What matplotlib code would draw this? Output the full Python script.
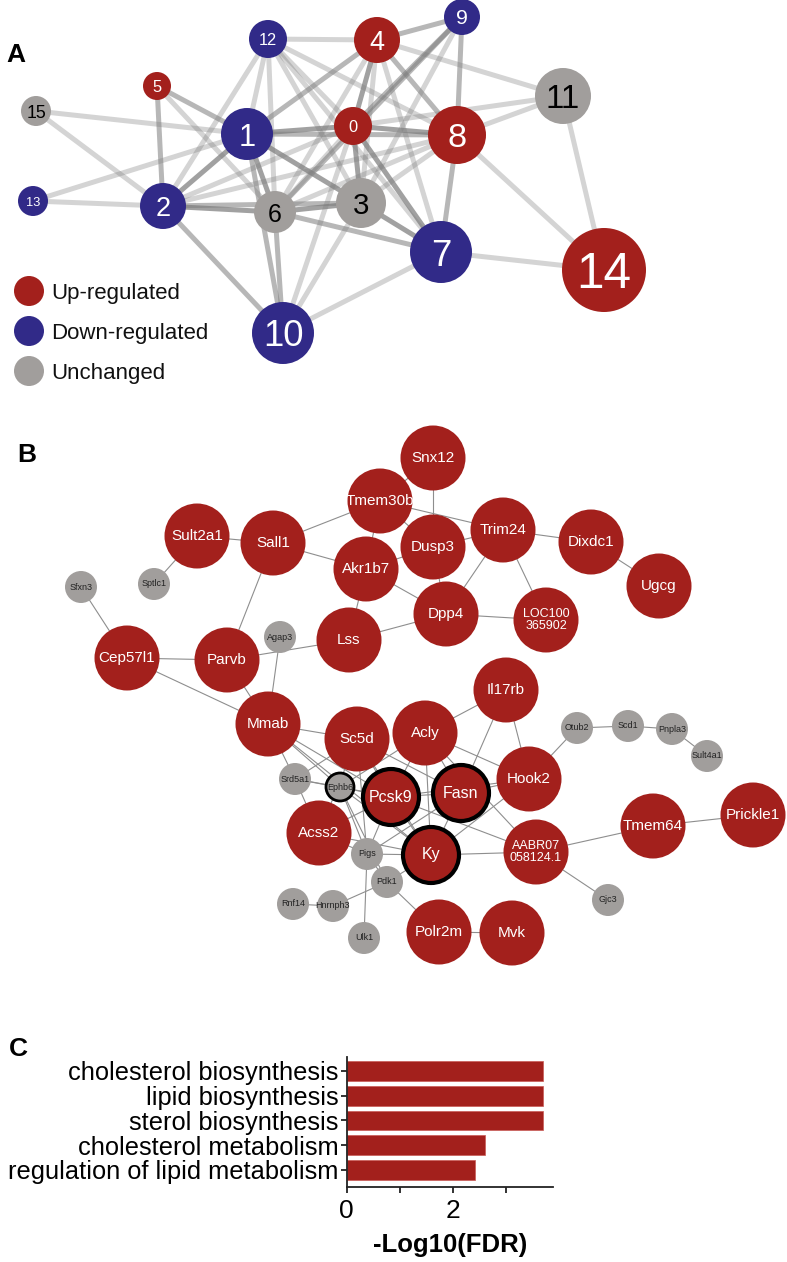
import matplotlib
matplotlib.use("Agg")
import matplotlib.pyplot as plt
from matplotlib.patches import Circle

plt.rcParams["font.family"] = ["Liberation Sans", "DejaVu Sans"]

# ---------------- panel A: module network ----------------
a_ids = ["0", "1", "2", "3", "4", "5", "6", "7", "8", "9", "10", "11", "12", "13", "14", "15"]
a_x = [353, 247, 163, 361, 377, 157, 275, 441, 457, 462, 283, 563, 268, 33, 604, 36]
a_y = [126, 134, 206, 203, 40, 86, 212, 252, 135, 17, 333, 96, 39, 201, 270, 111]
a_size = [19, 26, 23, 25, 23, 14, 21, 31, 29, 18, 31, 28, 19, 15, 42, 15]
a_status = ["up", "down", "down", "same", "up", "up", "same", "down",
            "up", "down", "down", "same", "down", "down", "up", "same"]
# (node, node, strength 1..3)
a_edges = [
    (15, 1, 1), (15, 2, 1), (13, 2, 1), (13, 1, 1), (5, 6, 1),
    (12, 4, 1), (12, 1, 1), (12, 2, 1), (12, 6, 1), (12, 3, 1), (12, 0, 1),
    (12, 8, 1), (12, 7, 1), (2, 0, 1), (2, 8, 1), (6, 0, 1), (6, 4, 1),
    (6, 8, 1), (10, 3, 1), (10, 0, 1), (10, 7, 1), (3, 8, 1), (3, 4, 1),
    (4, 7, 1), (4, 11, 1), (11, 8, 1), (11, 14, 1), (11, 0, 1), (8, 14, 1),
    (7, 14, 1), (3, 9, 1),
    (5, 1, 2), (5, 2, 2), (1, 4, 2), (1, 8, 2), (1, 10, 2), (2, 3, 2),
    (2, 10, 2), (6, 10, 2), (6, 7, 2), (6, 9, 2), (0, 9, 2), (4, 8, 2),
    (4, 9, 2), (9, 8, 2), (8, 7, 2),
    (1, 0, 3), (1, 3, 3), (1, 6, 3), (1, 2, 3), (2, 6, 3), (6, 3, 3),
    (3, 0, 3), (3, 7, 3), (0, 7, 3), (0, 8, 3), (0, 4, 3),
]
legend_labels = ["Up-regulated", "Down-regulated", "Unchanged"]

# ---------------- panel B: gene network ----------------
b_names = ["Sult2a1", "Sall1", "Tmem30b", "Snx12", "Dusp3", "Akr1b7", "Trim24",
           "Dixdc1", "Ugcg", "Dpp4", "LOC100365902", "Lss", "Parvb", "Cep57l1",
           "Sfxn3", "Sptlc1", "Agap3", "Il17rb", "Mmab", "Sc5d", "Acly", "Srd5a1",
           "Ephb6", "Pcsk9", "Fasn", "Hook2", "Otub2", "Scd1", "Pnpla3", "Sult4a1",
           "Acss2", "Pigs", "Ky", "AABR07058124.1", "Tmem64", "Prickle1", "Gjc3",
           "Pdk1", "Rnf14", "Hnrnph3", "Ulk1", "Polr2m", "Mvk"]
b_labels = {"LOC100365902": "LOC100\n365902", "AABR07058124.1": "AABR07\n058124.1"}
b_x = [197, 273, 380, 433, 433, 366, 503, 591, 659, 446, 546, 349, 227, 127,
       81, 154, 280, 506, 268, 357, 425, 295, 340, 391, 461, 529, 577, 628, 672, 707,
       319, 367, 431, 536, 653, 753, 608, 387, 293, 333, 364, 439, 512]
b_y = [536, 543, 501, 458, 547, 569, 530, 542, 586, 614, 620, 640, 660, 658,
       587, 584, 637, 690, 724, 739, 733, 779, 787, 797, 793, 779, 728, 726, 729, 756,
       833, 854, 855, 852, 826, 815, 900, 882, 904, 906, 938, 932, 933]
b_kind = ["up", "up", "up", "up", "up", "up", "up", "up", "up", "up", "up", "up", "up", "up",
          "other", "other", "other", "up", "up", "up", "up", "other", "other", "up", "up", "up",
          "other", "other", "other", "other", "up", "other", "up", "up", "up", "up", "other",
          "other", "other", "other", "other", "up", "up"]
b_hub = ["Ephb6", "Pcsk9", "Fasn", "Ky"]
b_edges = [
    ("Sfxn3", "Cep57l1"), ("Sult2a1", "Sptlc1"), ("Sult2a1", "Sall1"),
    ("Sall1", "Tmem30b"), ("Sall1", "Akr1b7"), ("Sall1", "Parvb"),
    ("Cep57l1", "Parvb"), ("Cep57l1", "Mmab"), ("Parvb", "Lss"), ("Parvb", "Mmab"),
    ("Agap3", "Mmab"), ("Tmem30b", "Snx12"), ("Tmem30b", "Trim24"),
    ("Tmem30b", "Akr1b7"), ("Tmem30b", "Dusp3"), ("Snx12", "Dusp3"),
    ("Akr1b7", "Dusp3"), ("Akr1b7", "Dpp4"), ("Akr1b7", "Lss"), ("Dusp3", "Trim24"),
    ("Dusp3", "Dpp4"), ("Trim24", "Dpp4"), ("Trim24", "LOC100365902"),
    ("Trim24", "Dixdc1"), ("Dixdc1", "Ugcg"), ("Dpp4", "LOC100365902"), ("Dpp4", "Lss"),
    ("Mmab", "Sc5d"), ("Mmab", "Srd5a1"), ("Mmab", "Pcsk9"), ("Mmab", "Ephb6"),
    ("Mmab", "Ky"), ("Sc5d", "Srd5a1"), ("Sc5d", "Acss2"), ("Sc5d", "Pcsk9"),
    ("Sc5d", "Ky"), ("Sc5d", "Fasn"), ("Sc5d", "Pigs"), ("Acly", "Il17rb"),
    ("Acly", "Pcsk9"), ("Acly", "Fasn"), ("Acly", "Ky"), ("Acly", "Hook2"),
    ("Acly", "Ephb6"), ("Acly", "AABR07058124.1"), ("Il17rb", "Fasn"),
    ("Il17rb", "Hook2"), ("Hook2", "Otub2"), ("Otub2", "Scd1"), ("Scd1", "Pnpla3"),
    ("Pnpla3", "Sult4a1"), ("Hook2", "Fasn"), ("Hook2", "Ky"), ("Hook2", "Pcsk9"),
    ("Fasn", "Pcsk9"), ("Fasn", "Ky"), ("Fasn", "Pigs"), ("Pcsk9", "Ky"),
    ("Pcsk9", "AABR07058124.1"), ("Pcsk9", "Acss2"), ("Pcsk9", "Pigs"),
    ("Pcsk9", "Srd5a1"), ("Ky", "AABR07058124.1"), ("Ky", "Pigs"), ("Ky", "Pdk1"),
    ("Ky", "Acss2"), ("Ky", "Ephb6"), ("AABR07058124.1", "Tmem64"),
    ("Tmem64", "Prickle1"), ("AABR07058124.1", "Gjc3"), ("Srd5a1", "Ephb6"),
    ("Srd5a1", "Acss2"), ("Ephb6", "Pcsk9"), ("Ephb6", "Pigs"), ("Ephb6", "Pdk1"),
    ("Pigs", "Ulk1"), ("Pigs", "Pdk1"), ("Pigs", "Acss2"), ("Pdk1", "Hnrnph3"),
    ("Pdk1", "Polr2m"), ("Rnf14", "Hnrnph3"), ("Polr2m", "Mvk"),
]

# ---------------- panel C: enrichment ----------------
terms = ["cholesterol biosynthesis", "lipid biosynthesis", "sterol biosynthesis",
         "cholesterol metabolism", "regulation of lipid metabolism"]
neg_log_fdr = [3.71, 3.71, 3.71, 2.60, 2.41]

RED = "#a3201c"
BLUE = "#312a88"
GREY = "#a19e9c"
colors = {"up": RED, "down": BLUE, "same": GREY, "other": GREY}

W, H = 787, 1262
fig = plt.figure(figsize=(W / 100, H / 100), dpi=100)
ax = fig.add_axes([0, 0, 1, 1])
ax.set_xlim(0, W)
ax.set_ylim(H, 0)
ax.axis("off")

# panel A edges
alphas = {1: 0.33, 2: 0.55, 3: 0.72}
for i, j, s in a_edges:
    ax.plot([a_x[i], a_x[j]], [a_y[i], a_y[j]], color="#7d7d7d", lw=3.6,
            alpha=alphas[s], solid_capstyle="butt", zorder=1)

for k, lab in enumerate(a_ids):
    r = a_size[k]
    ax.add_patch(Circle((a_x[k], a_y[k]), r, color=colors[a_status[k]], lw=0, zorder=3))
    fs = 0.85 * r
    if lab in ("0", "12", "13"):
        fs = 0.62 * r
    tc = "black" if a_status[k] == "same" else "white"
    ax.text(a_x[k], a_y[k], lab, ha="center", va="center_baseline", fontsize=fs,
            color=tc, zorder=4)

for k, (lab, key) in enumerate(zip(legend_labels, ["up", "down", "same"])):
    yy = 291 + 40 * k
    ax.add_patch(Circle((29, yy), 15, color=colors[key], lw=0, zorder=3))
    ax.text(51, yy, lab, ha="left", va="center_baseline", fontsize=16, color="#111")

# panel B edges
pos = {n: (x, y) for n, x, y in zip(b_names, b_x, b_y)}
for a, b in b_edges:
    ax.plot([pos[a][0], pos[b][0]], [pos[a][1], pos[b][1]], color="#8e8e8e",
            lw=0.8, zorder=1)

for n, x, y, kind in zip(b_names, b_x, b_y, b_kind):
    big = kind == "up"
    r = 32.5 if big else 16
    ring = n in b_hub
    if ring:
        r = 28 if big else 14
        ax.add_patch(Circle((x, y), r, facecolor=colors[kind], edgecolor="black",
                            lw=3.0 if big else 2.0, zorder=3))
    else:
        ax.add_patch(Circle((x, y), r, color=colors[kind], lw=0, zorder=3))
    lab = b_labels.get(n, n)
    if big:
        fs = 9 if "\n" in lab else (11.5 if ring else 11)
        ax.text(x, y, lab, ha="center", va="center", fontsize=fs, color="white",
                linespacing=1.05, zorder=4)
    else:
        ax.text(x, y, lab, ha="center", va="center", fontsize=6.5, color="#222",
                zorder=4)

# panel letters
ax.text(16, 52, "A", fontsize=19, fontweight="bold", ha="center", va="center_baseline")
ax.text(27, 452, "B", fontsize=19, fontweight="bold", ha="center", va="center_baseline")
ax.text(18, 1047, "C", fontsize=19, fontweight="bold", ha="center", va="center_baseline")

# panel C bar chart
x0, x1, y0, y1 = 346.7, 553, 1057, 1187
axc = fig.add_axes([x0 / W, 1 - y1 / H, (x1 - x0) / W, (y1 - y0) / H])
axc.barh(range(len(terms)), neg_log_fdr, height=0.8, color=RED, edgecolor="#c95a55",
         lw=0.5)
axc.set_ylim(4.69, -0.565)
axc.set_xlim(0, 3.89)
axc.set_yticks(range(len(terms)))
axc.set_yticklabels(terms, fontsize=18.3)
axc.set_xticks([0, 1, 2, 3])
axc.set_xticklabels(["0", "", "2", ""], fontsize=19)
axc.set_xlabel("-Log10(FDR)", fontsize=18.5, fontweight="bold", labelpad=7)
for s in ["top", "right"]:
    axc.spines[s].set_visible(False)
for s in ["left", "bottom"]:
    axc.spines[s].set_linewidth(1.3)
    axc.spines[s].set_color("#222")
axc.tick_params(axis="both", width=1.3, length=4, color="#222", pad=2)
axc.tick_params(axis="x", pad=5)

fig.savefig("out.png", dpi=100)
